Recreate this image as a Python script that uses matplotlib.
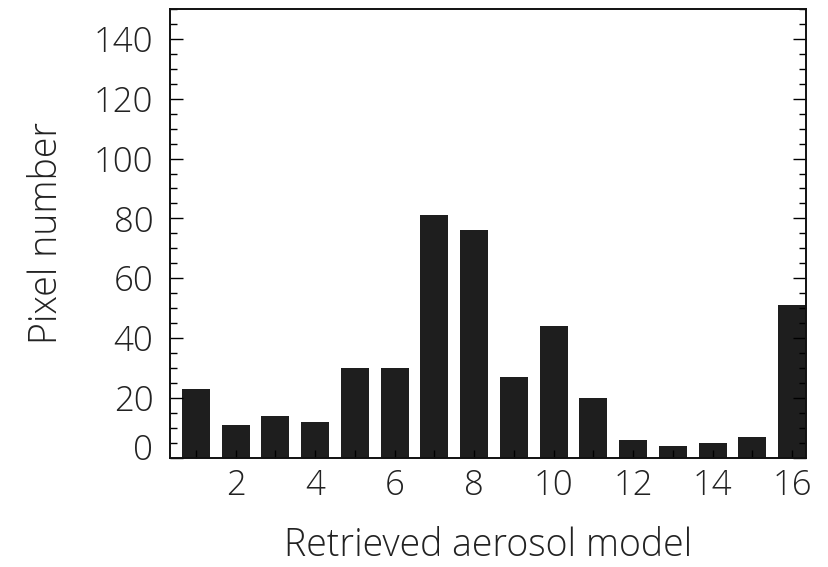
import matplotlib
matplotlib.use('Agg')
import matplotlib.pyplot as plt
from matplotlib.ticker import MultipleLocator
from matplotlib.transforms import ScaledTranslation

# pixel counts per retrieved aerosol model
models = list(range(1, 17))
pixel_counts = [23, 11, 14, 12, 30, 30, 81, 76, 27, 44, 20, 6, 4, 5, 7, 51]
y_ticks = list(range(0, 141, 20))

plt.rcParams['font.family'] = ['Open Sans', 'DejaVu Sans']
plt.rcParams['font.weight'] = 'light'
plt.rcParams['axes.labelweight'] = 'light'

fig = plt.figure(figsize=(8.29, 5.67), dpi=100)
fig.patch.set_facecolor('white')
ax = fig.add_axes([0.2051, 0.1928, 0.7672, 0.7913])

ax.bar(models, pixel_counts, width=0.7, color='#1e1e1e', edgecolor='none', zorder=1)

ax.set_xlim(0.35, 16.35)
ax.set_ylim(0, 150)

ax.xaxis.set_major_locator(MultipleLocator(2))
ax.xaxis.set_minor_locator(MultipleLocator(1))
ax.set_yticks(y_ticks)
ax.yaxis.set_minor_locator(MultipleLocator(5))

ax.tick_params(axis='x', which='both', direction='in', length=5.8, width=1.0,
               top=False, bottom=True, pad=8, labelsize=25, labelcolor='#222222')
ax.tick_params(axis='y', which='major', direction='in', length=9.4, width=1.0,
               left=True, right=True, pad=12, labelsize=25, labelcolor='#222222')
ax.tick_params(axis='y', which='minor', direction='in', length=5.0, width=1.0,
               left=True, right=True)

for side in ['top', 'bottom', 'left', 'right']:
    ax.spines[side].set_linewidth(1.4)
    ax.spines[side].set_color('#111111')

ax.set_xlabel('Retrieved aerosol model', fontsize=27, color='#222222', labelpad=17)
ax.set_ylabel('Pixel number', fontsize=27, color='#222222', labelpad=20)

# lift the zero label a little off the x axis
zero_tick = ax.yaxis.get_major_ticks()[0]
zero_tick.label1.set_transform(zero_tick.label1.get_transform() +
                               ScaledTranslation(0, 8 / 72, fig.dpi_scale_trans))

plt.savefig('out.png', dpi=100, facecolor='white')
plt.close()
